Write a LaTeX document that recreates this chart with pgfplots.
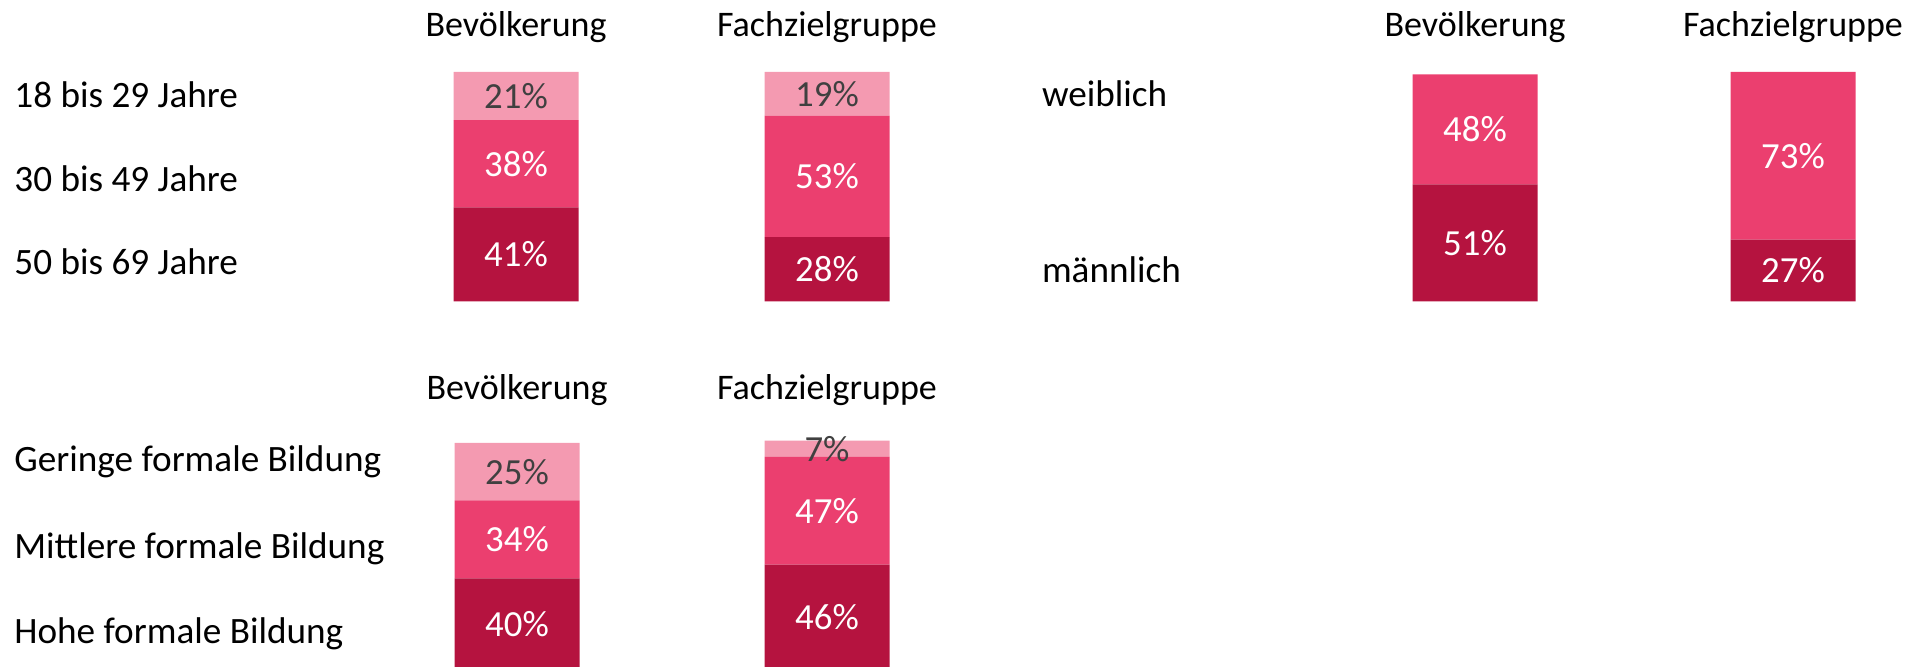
\documentclass[border=0pt]{standalone}
\usepackage{fontspec}
\setmainfont{Carlito}
\usepackage{pgfplots}
\pgfplotsset{compat=1.18}
\definecolor{cLight}{HTML}{F49AB1}
\definecolor{cMid}{HTML}{EB3F6F}
\definecolor{cDark}{HTML}{B5133F}
\definecolor{cText}{HTML}{404040}
\newcommand{\lab}{\fontsize{18}{21.6}\selectfont}
\newcommand{\rowf}{\fontsize{18.6}{22}\selectfont}
\newcommand{\valf}{\fontsize{18.4}{22}\selectfont}
\pgfplotsset{
  geom/.style={
    x=0.5pt, y=1.1475pt,
    xmin=0, xmax=1914, ymin=0, ymax=100,
    scale only axis, hide axis, clip=false, anchor=south west,
  },
  bars/.style={geom, ybar stacked, bar width=62.5pt},
  labs/.style={draw=none, mark=none, nodes near coords, point meta=explicit symbolic,
    every node near coord/.append style={anchor=center, font=\valf, inner sep=0pt}},
}
\begin{document}
\begin{tikzpicture}
\tikzset{every node/.append style={font=\lab}}
% ---------- Panel 1: Alter ----------
\begin{axis}[bars, at={(0pt,182.75pt)}]
\addplot[fill=cDark, draw=none] coordinates {(516,41) (827,28)};
\addplot[fill=cMid, draw=none] coordinates {(516,38) (827,53)};
\addplot[fill=cLight, draw=none] coordinates {(516,21) (827,19)};
\end{axis}
\begin{axis}[geom, at={(0pt,182.75pt)}]
\addplot[labs, every node near coord/.append style={text=white}] coordinates {(516,20.5)[41\%] (516,60)[38\%] (827,14)[28\%] (827,54.5)[53\%]};
\addplot[labs, every node near coord/.append style={text=cText}] coordinates {(516,89.5)[21\%] (827,90.5)[19\%]};
\end{axis}
% ---------- Panel 2: Geschlecht ----------
\begin{axis}[bars, at={(0pt,182.75pt)}]
\addplot[fill=cDark, draw=none] coordinates {(1475,51) (1793,27)};
\addplot[fill=cMid, draw=none] coordinates {(1475,48) (1793,73)};
\end{axis}
\begin{axis}[geom, at={(0pt,182.75pt)}]
\addplot[labs, every node near coord/.append style={text=white}] coordinates {(1475,25.5)[51\%] (1475,75)[48\%] (1793,13.5)[27\%] (1793,63.5)[73\%]};
\end{axis}
% ---------- Panel 3: Bildung ----------
\begin{axis}[bars, at={(0pt,-1.6pt)}]
\addplot[fill=cDark, draw=none] coordinates {(517,40) (827,46)};
\addplot[fill=cMid, draw=none] coordinates {(517,34) (827,47)};
\addplot[fill=cLight, draw=none] coordinates {(517,25) (827,7)};
\end{axis}
\begin{axis}[geom, at={(0pt,-1.6pt)}]
\addplot[labs, every node near coord/.append style={text=white}] coordinates {(517,20)[40\%] (517,57)[34\%] (827,23)[46\%] (827,69.5)[47\%]};
\addplot[labs, every node near coord/.append style={text=cText}] coordinates {(517,86.5)[25\%] (827,96.5)[7\%]};
\end{axis}
% ---------- Headers ----------
\foreach \x/\y/\t in {258/315/Bevölkerung, 413.5/315/Fachzielgruppe, 737.5/315/Bevölkerung, 896.5/315/Fachzielgruppe, 258.5/133.5/Bevölkerung, 413.5/133.5/Fachzielgruppe}
  \node[anchor=base, inner sep=0pt] at (\x pt,\y pt) {\t};
% ---------- Row labels ----------
\begin{scope}[every node/.append style={font=\rowf, anchor=base west, inner sep=0pt}]
\node at (7pt,279.5pt) {18 bis 29 Jahre};
\node at (7pt,237.75pt) {30 bis 49 Jahre};
\node at (7pt,196.25pt) {50 bis 69 Jahre};
\node at (520.8pt,280pt) {weiblich};
\node at (520.8pt,192pt) {männlich};
\node at (7pt,97.65pt) {Geringe formale Bildung};
\node at (7pt,54.35pt) {Mittlere formale Bildung};
\node at (7pt,11.85pt) {Hohe formale Bildung};
\end{scope}
\pgfresetboundingbox
\useasboundingbox (0pt,0pt) rectangle (957pt,333.5pt);
\end{tikzpicture}
\end{document}
